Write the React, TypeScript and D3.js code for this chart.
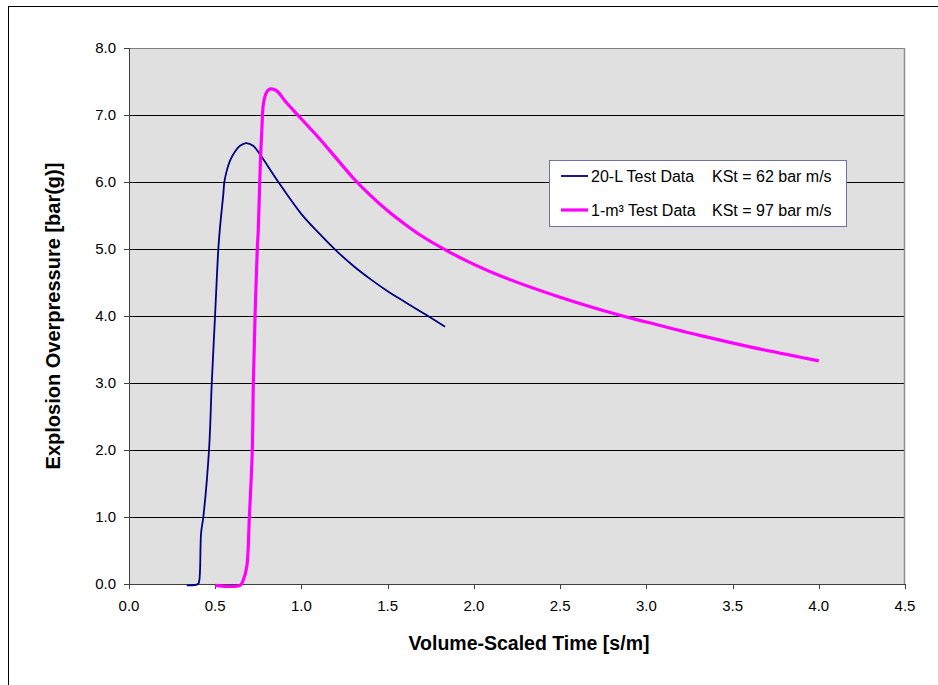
import React from "react";
import * as d3 from "d3";

const xTicks = [0, 0.5, 1.0, 1.5, 2.0, 2.5, 3.0, 3.5, 4.0, 4.5];
const yTicks = [0, 1, 2, 3, 4, 5, 6, 7, 8];

const blueX = [0.335, 0.40, 0.408, 0.418, 0.431, 0.464, 0.48, 0.499, 0.518, 0.528, 0.547, 0.553, 0.567, 0.586, 0.619, 0.644, 0.679, 0.72, 0.76, 0.866, 1.0, 1.1, 1.2, 1.3, 1.4, 1.5, 1.6, 1.727, 1.833];
const blueY = [-0.02, 0.0, 0.06, 0.76, 1.0, 2.0, 3.0, 4.0, 5.0, 5.33, 5.82, 6.0, 6.17, 6.32, 6.47, 6.54, 6.58, 6.54, 6.41, 6.0, 5.52, 5.24, 4.98, 4.75, 4.55, 4.37, 4.21, 4.01, 3.84];

const magX = [0.5, 0.644, 0.663, 0.683, 0.698, 0.715, 0.721, 0.731, 0.744, 0.75, 0.756, 0.762, 0.771, 0.779, 0.793, 0.81, 0.828, 0.857, 0.905, 1.0, 1.1, 1.2, 1.3, 1.4, 1.5, 1.6, 1.7, 1.84, 2.0, 2.152, 2.5, 2.848, 3.0, 3.31, 3.6, 4.0];
const magY = [-0.02, -0.02, 0.06, 0.26, 1.0, 2.0, 3.0, 4.0, 5.0, 5.3, 5.82, 6.3, 6.82, 7.16, 7.31, 7.38, 7.39, 7.36, 7.21, 6.94, 6.66, 6.36, 6.06, 5.8, 5.57, 5.37, 5.19, 4.98, 4.77, 4.6, 4.28, 4.01, 3.91, 3.71, 3.54, 3.33];

const seriesNames = ["20-L Test Data", "1-m\u00B3 Test Data"];
const seriesKst = ["KSt = 62 bar m/s", "KSt = 97 bar m/s"];
const seriesColors = ["#000080", "#FF00FF"];

export default function App() {
  const W = 938, H = 685;
  const L = 129, R = 905, T = 48, B = 584;
  const x = d3.scaleLinear().domain([0, 4.5]).range([L, R]);
  const y = d3.scaleLinear().domain([0, 8]).range([B, T]);
  const line = d3.line<[number, number]>().x(d => x(d[0])).y(d => y(d[1])).curve(d3.curveCatmullRom.alpha(0.5));
  const blue = blueX.map((v, i) => [v, blueY[i]] as [number, number]);
  const mag = magX.map((v, i) => [v, magY[i]] as [number, number]);
  const font = "Arial, 'Liberation Sans', sans-serif";
  return (
    <svg width={W} height={H} style={{ position: "absolute", left: 0, top: 0, background: "#fff" }} fontFamily={font}>
      <rect x={8.5} y={6.5} width={960} height={700} fill="#fff" stroke="#000" strokeWidth={1} />
      <rect x={L} y={T} width={R - L} height={B - T} fill="#E0E0E0" />
      {yTicks.map(t => (
        t > 0 && t < 8 ? <line key={"g" + t} x1={L} x2={R} y1={Math.round(y(t)) + 0.5} y2={Math.round(y(t)) + 0.5} stroke="#000" strokeWidth={1} /> : null
      ))}
      <line x1={L} x2={R} y1={T + 0.5} y2={T + 0.5} stroke="#808080" strokeWidth={1} />
      <line x1={R - 0.5} x2={R - 0.5} y1={T} y2={B} stroke="#909090" strokeWidth={1.5} />
      <line x1={L + 0.5} x2={L + 0.5} y1={T} y2={B} stroke="#404040" strokeWidth={1} />
      <line x1={L} x2={R} y1={B + 0.5} y2={B + 0.5} stroke="#404040" strokeWidth={1} />
      {yTicks.map(t => (
        <g key={"y" + t}>
          <line x1={L - 5} x2={L} y1={Math.round(y(t)) + 0.5} y2={Math.round(y(t)) + 0.5} stroke="#404040" />
          <text x={116} y={y(t) + 5} textAnchor="end" fontSize={15} fill="#000">{t.toFixed(1)}</text>
        </g>
      ))}
      {xTicks.map(t => (
        <g key={"x" + t}>
          <line x1={Math.round(x(t)) + 0.5} x2={Math.round(x(t)) + 0.5} y1={B} y2={B + 5} stroke="#404040" />
          <text x={x(t)} y={611} textAnchor="middle" fontSize={15} fill="#000">{t.toFixed(1)}</text>
        </g>
      ))}
      <path d={line(blue) || ""} fill="none" stroke={seriesColors[0]} strokeWidth={1.8} />
      <path d={line(mag) || ""} fill="none" stroke={seriesColors[1]} strokeWidth={3.2} strokeLinejoin="round" />
      <text x={529} y={650} textAnchor="middle" fontSize={19.5} fontWeight="bold" fill="#000">Volume-Scaled Time [s/m]</text>
      <text transform={`translate(60,316) rotate(-90)`} textAnchor="middle" fontSize={20} fontWeight="bold" fill="#000">Explosion Overpressure [bar(g)]</text>
      <rect x={549.5} y={160.5} width={297} height={66} fill="#fff" stroke="#7070B0" strokeWidth={1} />
      {seriesNames.map((n, i) => (
        <g key={n}>
          <line x1={561} x2={588} y1={176 + i * 34} y2={176 + i * 34} stroke={seriesColors[i]} strokeWidth={i === 0 ? 1.8 : 3.2} />
          <text x={591} y={182 + i * 34} fontSize={16} fill="#000">{n}</text>
          <text x={712} y={182 + i * 34} fontSize={16} fill="#000">{seriesKst[i]}</text>
        </g>
      ))}
    </svg>
  );
}
